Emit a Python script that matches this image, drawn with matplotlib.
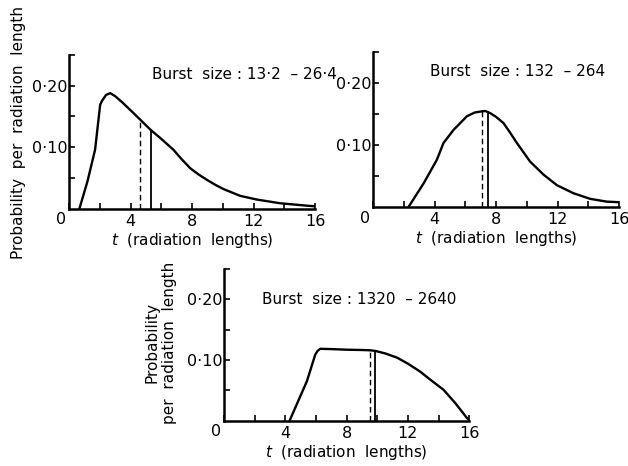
import numpy as np
import matplotlib
matplotlib.use('Agg')
import matplotlib.pyplot as plt

plt.rcParams['font.family'] = ['DejaVu Sans']

# burst size 13.2 - 26.4
t1 = [0.67, 1.2, 1.69, 2.02, 2.13, 2.4, 2.67, 3.0, 3.5, 4.0, 4.62, 5.31, 5.93, 6.78, 7.3, 7.87,
      8.4, 8.96, 9.5, 10.04, 11.12, 12.2, 13.7, 15.46, 16.0]
p1 = [0.0, 0.045, 0.096, 0.169, 0.175, 0.185, 0.188, 0.183, 0.172, 0.160, 0.145, 0.128, 0.115,
      0.096, 0.081, 0.066, 0.056, 0.047, 0.039, 0.032, 0.021, 0.015, 0.009, 0.005, 0.004]
# burst size 132 - 264
t2 = [2.31, 3.29, 4.15, 4.58, 5.23, 6.1, 6.6, 7.08, 7.3, 7.62, 8.0, 8.48, 8.9, 9.35, 10.21,
      11.08, 11.95, 13.03, 14.11, 15.19, 15.95]
p2 = [0.0, 0.038, 0.076, 0.103, 0.124, 0.146, 0.152, 0.154, 0.1545, 0.151, 0.145, 0.135, 0.120,
      0.103, 0.073, 0.052, 0.035, 0.022, 0.013, 0.0085, 0.0076]
# burst size 1320 - 2640
t3 = [4.27, 5.4, 5.95, 6.1, 6.27, 7.0, 8.0, 9.0, 9.54, 9.87, 10.5, 11.29, 12.0, 12.8, 13.5,
      14.33, 15.1, 15.86, 16.0]
p3 = [0.0, 0.065, 0.109, 0.115, 0.1185, 0.118, 0.117, 0.1165, 0.116, 0.115, 0.111, 0.104, 0.094,
      0.081, 0.067, 0.051, 0.029, 0.0045, 0.002]

titles = ['Burst  size : 13·2  – 26·4', 'Burst  size : 132  – 264', 'Burst  size : 1320  – 2640']
dashed_t = [4.6, 7.08, 9.5]   # dashed vertical line
solid_t = [5.31, 7.5, 9.87]   # solid vertical line

xticks = [0, 2, 4, 6, 8, 10, 12, 14, 16]
xlabels = ['', '', '4', '', '8', '', '12', '', '16']
yticks = [0.05, 0.10, 0.15, 0.20, 0.25]
ylabels = ['', '0·10', '', '0·20', '']

fig = plt.figure(figsize=(6.28, 4.66), dpi=100)
boxes = [[0.110, 0.552, 0.392, 0.330],
         [0.594, 0.556, 0.392, 0.333],
         [0.357, 0.097, 0.390, 0.326]]
title_pos = [(5.4, 0.218), (3.7, 0.218), (2.5, 0.200)]

curves = [(t1, p1), (t2, p2), (t3, p3)]
for i, (tt, pp) in enumerate(curves):
    ax = fig.add_axes(boxes[i])
    ax.plot(tt, pp, color='black', lw=1.7, solid_capstyle='round', solid_joinstyle='round')
    hd = np.interp(dashed_t[i], tt, pp)
    hs = np.interp(solid_t[i], tt, pp)
    ax.plot([dashed_t[i], dashed_t[i]], [0, hd], color='black', lw=1.0, ls=(0, (4, 2.5)))
    ax.plot([solid_t[i], solid_t[i]], [0, hs], color='black', lw=1.3)
    ax.set_xlim(0, 16)
    ax.set_ylim(0, 0.25)
    for s in ['top', 'right']:
        ax.spines[s].set_visible(False)
    for s in ['left', 'bottom']:
        ax.spines[s].set_linewidth(1.8)
    ax.set_xticks(xticks)
    ax.set_xticklabels(xlabels)
    ax.set_yticks(yticks)
    ax.set_yticklabels(ylabels)
    ax.tick_params(direction='in', length=4, width=1.2, labelsize=11.5)
    ax.tick_params(axis='x', pad=4)
    ax.tick_params(axis='y', pad=1)
    ax.text(-0.55, -0.006, '0', fontsize=11.5, ha='center', va='top')
    ax.text(title_pos[i][0], title_pos[i][1], titles[i], fontsize=11, ha='left', va='center')
    ax.set_xlabel('$t$  (radiation  lengths)', fontsize=11, labelpad=1)

fig.text(0.029, 0.715, 'Probability  per  radiation  length', rotation=90,
         ha='center', va='center', fontsize=11)
fig.text(0.256, 0.264, 'Probability\nper  radiation  length', rotation=90,
         ha='center', va='center', fontsize=11, multialignment='center', linespacing=1.15)

fig.savefig('out.png', dpi=100)
